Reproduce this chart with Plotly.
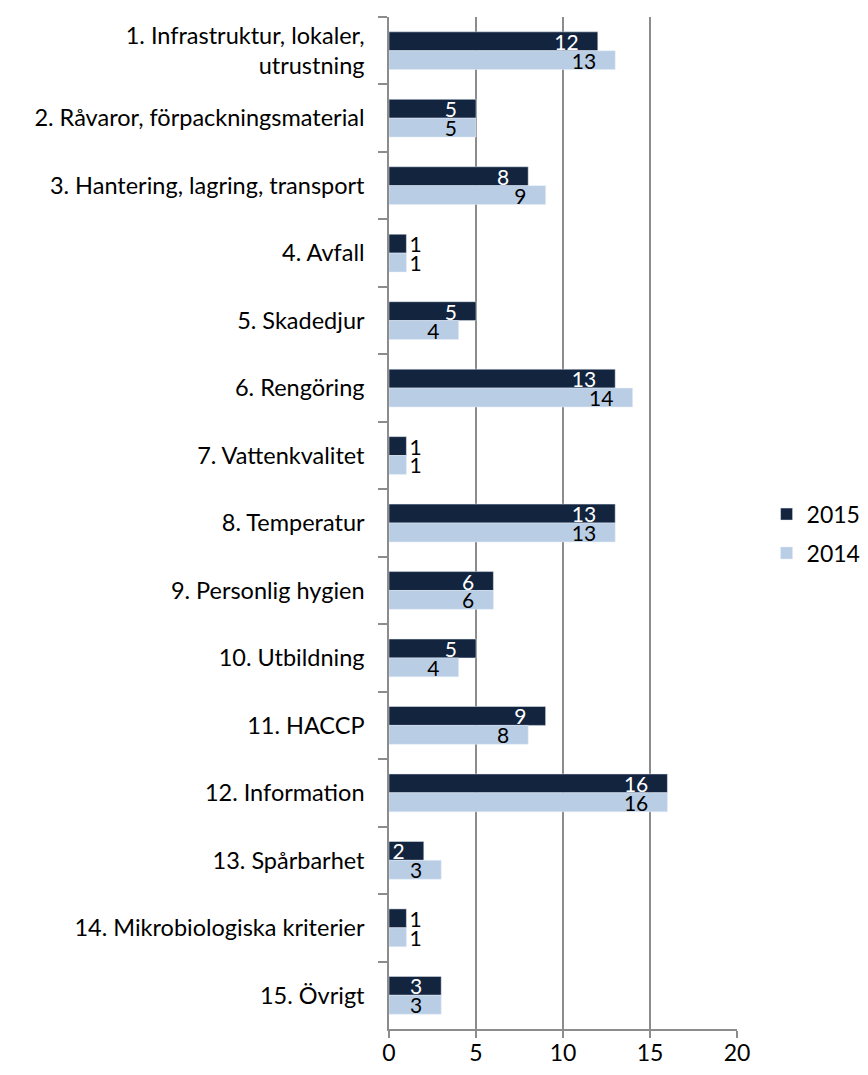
import plotly.graph_objects as go

categories = [
    "1. Infrastruktur, lokaler,<br>utrustning",
    "2. Råvaror, förpackningsmaterial",
    "3. Hantering, lagring, transport",
    "4. Avfall",
    "5. Skadedjur",
    "6. Rengöring",
    "7. Vattenkvalitet",
    "8. Temperatur",
    "9. Personlig hygien",
    "10. Utbildning",
    "11. HACCP",
    "12. Information",
    "13. Spårbarhet",
    "14. Mikrobiologiska kriterier",
    "15. Övrigt",
]
values_2015 = [12, 5, 8, 1, 5, 13, 1, 13, 6, 5, 9, 16, 2, 1, 3]
values_2014 = [13, 5, 9, 1, 4, 14, 1, 13, 6, 4, 8, 16, 3, 1, 3]

FONT = "Lato"
GRID = "#8c8c8c"
PAD = "\u00a0" * 3


def positions(vals):
    # tiny bars get their label outside, like the original
    return ["outside" if v <= 1 else "inside" for v in vals]


def labels(vals):
    return [str(v) if v <= 1 else str(v) + PAD for v in vals]


fig = go.Figure()
fig.add_trace(go.Bar(
    y=categories, x=values_2015, name="2015", orientation="h",
    marker=dict(color="#13243f"),
    text=labels(values_2015), textposition=positions(values_2015),
    insidetextanchor="end", textangle=0, constraintext="none",
    insidetextfont=dict(color="white", size=21, family=FONT),
    outsidetextfont=dict(color="black", size=21, family=FONT),
    cliponaxis=False, legendgroup="a",
))
fig.add_trace(go.Bar(
    y=categories, x=values_2014, name="2014", orientation="h",
    marker=dict(color="#b9cde5"),
    text=labels(values_2014), textposition=positions(values_2014),
    insidetextanchor="end", textangle=0, constraintext="none",
    insidetextfont=dict(color="black", size=21, family=FONT),
    outsidetextfont=dict(color="black", size=21, family=FONT),
    cliponaxis=False, legendgroup="b",
))

# page body has an 8px margin, so the figure is shrunk and shifted to fit
fig.update_layout(
    width=860, height=1067,
    margin=dict(l=381, r=131, t=9, b=46, autoexpand=False),
    barmode="group", bargap=0.44, bargroupgap=0,
    plot_bgcolor="white", paper_bgcolor="white",
    font=dict(family=FONT, size=23.5, color="black"),
    legend=dict(x=1.085, xanchor="left", y=0.53, yanchor="top",
                font=dict(size=23), tracegroupgap=6, traceorder="grouped"),
)
fig.update_xaxes(
    range=[0, 20], tickvals=[0, 5, 10, 15, 20],
    showgrid=True, gridcolor=GRID, gridwidth=1.5,
    showline=True, linecolor=GRID, linewidth=1.5,
    ticks="outside", ticklen=7, tickcolor=GRID, tickwidth=1.5,
    ticklabelstandoff=-4,
    zeroline=False, tickfont=dict(size=23),
)
fig.update_yaxes(
    autorange="reversed",
    showline=True, linecolor=GRID, linewidth=1.5,
    ticks="outside", ticklen=9, tickcolor=GRID, tickwidth=1.5,
    tickson="boundaries", ticklabelstandoff=18,
    tickfont=dict(size=23.5),
)

fig.write_html("out.html")
